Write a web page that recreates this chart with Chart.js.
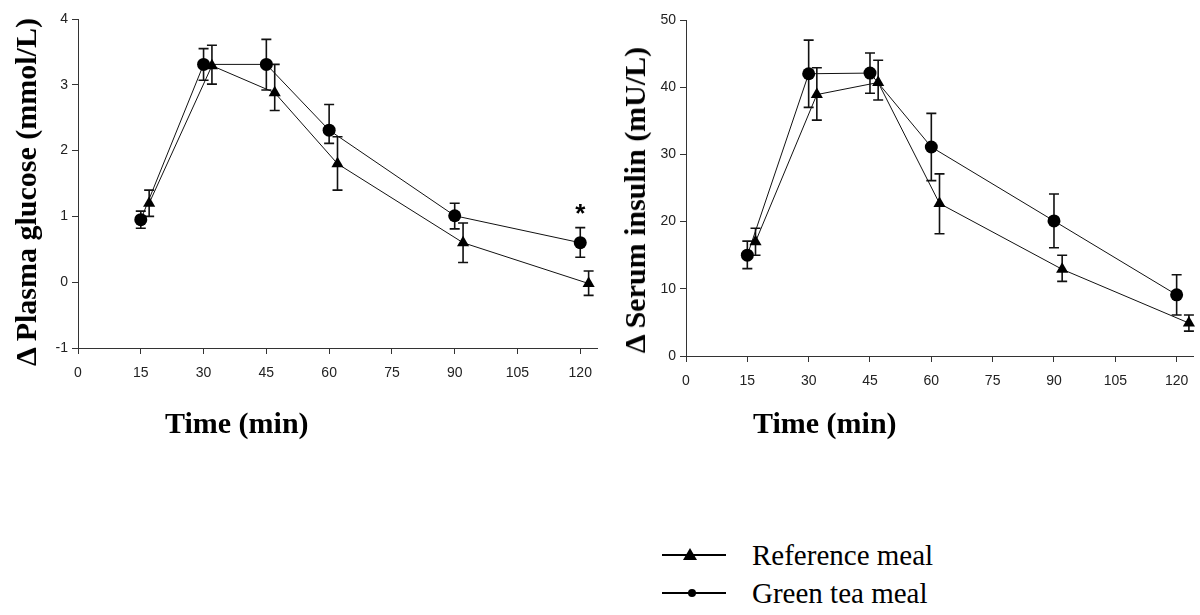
<!DOCTYPE html>
<html lang="en">
<head>
  <meta charset="UTF-8" />
  <title>Glucose and insulin response</title>
  <script src="https://cdn.jsdelivr.net/npm/chart.js"></script>
  <style>
    body { margin: 0; background: #fff; width: 1200px; height: 615px; position: relative; overflow: hidden; }
    canvas { position: absolute; top: 0; }
    #glucoseChart { left: 0; }
    #insulinChart { left: 610px; }
    .axis-title { position: absolute; font-family: "Liberation Serif", "Times New Roman", serif; font-size: 30px; line-height: 30px; font-weight: bold; color: #000; white-space: nowrap; }
    .axis-title.y { transform: translate(-50%, -50%) rotate(-90deg); }
    .legend { position: absolute; left: 662px; top: 536px; font-family: "Liberation Serif", "Times New Roman", serif; font-size: 29px; color: #000; }
    .legend div { display: flex; align-items: center; height: 38px; }
    .legend svg { margin-right: 26px; }
  </style>
</head>
<body>
  <canvas id="glucoseChart" width="610" height="420"></canvas>
  <canvas id="insulinChart" width="590" height="420"></canvas>

  <!-- Axis titles -->
  <div class="axis-title y" style="left:26px; top:192px;">&Delta; Plasma glucose (mmol/L)</div>
  <div class="axis-title y" style="left:635px; top:200px;">&Delta; Serum insulin (mU/L)</div>
  <div class="axis-title" style="left:165px; top:408px;">Time (min)</div>
  <div class="axis-title" style="left:753px; top:408px;">Time (min)</div>

  <!-- Legend -->
  <div class="legend">
    <div>
      <svg width="64" height="20"><line x1="0" y1="10" x2="64" y2="10" stroke="#000" stroke-width="2"/><polygon points="28,3 35,15 21,15" fill="#000"/></svg>
      <span>Reference meal</span>
    </div>
    <div>
      <svg width="64" height="20"><line x1="0" y1="10" x2="64" y2="10" stroke="#000" stroke-width="2"/><circle cx="30" cy="10" r="4" fill="#000"/></svg>
      <span>Green tea meal</span>
    </div>
  </div>

  <script>
    // x positions (min); reference meal is drawn slightly offset as in the figure
    const timeGreen = [15, 30, 45, 60, 90, 120];
    const timeRefGlu = [17, 32, 47, 62, 92, 122];
    const timeRefIns = [17, 32, 47, 62, 92, 123];
    const xTicks = [0, 15, 30, 45, 60, 75, 90, 105, 120];

    // plasma glucose (mmol/L)
    const gluGreen = [0.95, 3.31, 3.31, 2.31, 1.01, 0.60];
    const gluGreenHi = [0.13, 0.24, 0.38, 0.39, 0.19, 0.23];
    const gluGreenLo = [0.13, 0.24, 0.39, 0.20, 0.20, 0.22];
    const gluRef = [1.2, 3.29, 2.88, 1.8, 0.6, -0.02];
    const gluRefHi = [0.2, 0.31, 0.43, 0.41, 0.3, 0.19];
    const gluRefLo = [0.2, 0.28, 0.27, 0.4, 0.3, 0.18];
    const gluStarX = [120];
    const gluStarY = [1.1];

    // serum insulin (mU/L)
    const insGreen = [15, 42, 42.1, 31.1, 20.1, 9.1];
    const insGreenHi = [2.1, 5, 3, 5, 4, 3];
    const insGreenLo = [2, 5, 3, 5, 4, 3];
    const insRef = [17, 38.9, 40.7, 22.7, 12.9, 4.9];
    const insRefHi = [2, 4, 3.3, 4.4, 2.1, 1.2];
    const insRefLo = [2, 3.8, 2.6, 4.5, 1.8, 1.2];

    const tickFont = { family: '"Liberation Sans", Arial, sans-serif', size: 14 };

    const errorBars = {
      id: 'errorBars',
      beforeDatasetsDraw(chart) {
        const { ctx, scales: { x, y } } = chart;
        ctx.save();
        ctx.strokeStyle = '#111';
        ctx.lineWidth = 1.6;
        chart.data.datasets.forEach(ds => {
          ds.data.forEach((pt, i) => {
            const px = x.getPixelForValue(pt.x);
            const top = y.getPixelForValue(pt.y + ds.errHi[i]);
            const bot = y.getPixelForValue(pt.y - ds.errLo[i]);
            ctx.beginPath();
            ctx.moveTo(px, top); ctx.lineTo(px, bot);
            ctx.moveTo(px - 5, top); ctx.lineTo(px + 5, top);
            ctx.moveTo(px - 5, bot); ctx.lineTo(px + 5, bot);
            ctx.stroke();
          });
        });
        ctx.restore();
      }
    };

    const stars = {
      id: 'stars',
      afterDatasetsDraw(chart, args, opts) {
        if (!opts.x) return;
        const { ctx, scales: { x, y } } = chart;
        ctx.save();
        ctx.fillStyle = '#000';
        ctx.font = 'bold 26px "Liberation Sans", Arial, sans-serif';
        ctx.textAlign = 'center';
        ctx.textBaseline = 'middle';
        opts.x.forEach((v, i) => {
          ctx.fillText('*', x.getPixelForValue(v), y.getPixelForValue(opts.y[i]) + 5);
        });
        ctx.restore();
      }
    };

    function series(xs, ys, hi, lo, style, radius) {
      return {
        data: xs.map((v, i) => ({ x: v, y: ys[i] })),
        errHi: hi,
        errLo: lo,
        borderColor: '#111',
        borderWidth: 1,
        backgroundColor: '#000',
        pointStyle: style,
        pointRadius: radius,
        pointBorderWidth: 0,
        clip: false
      };
    }

    function makeChart(id, cfg) {
      return new Chart(document.getElementById(id), {
        type: 'line',
        data: {
          datasets: [
            series(cfg.refX, cfg.refY, cfg.refHi, cfg.refLo, 'triangle', 7),
            series(timeGreen, cfg.greenY, cfg.greenHi, cfg.greenLo, 'circle', 6.5)
          ]
        },
        plugins: [errorBars, stars],
        options: {
          responsive: false,
          animation: false,
          layout: { padding: { left: 0, right: cfg.padRight, top: cfg.padTop, bottom: 0 } },
          plugins: {
            legend: { display: false },
            tooltip: { enabled: false },
            stars: { x: cfg.starX, y: cfg.starY }
          },
          scales: {
            x: {
              type: 'linear',
              min: 0, max: 124,
              afterBuildTicks: s => { s.ticks = xTicks.map(v => ({ value: v })); },
              afterFit: s => { s.height = cfg.xHeight; },
              border: { display: true, color: '#333', width: 1 },
              grid: { drawOnChartArea: false, tickLength: 6, color: '#333' },
              ticks: { font: tickFont, color: '#222', padding: 11, maxRotation: 0 }
            },
            y: {
              min: cfg.yMin, max: cfg.yMax,
              ticks: { stepSize: cfg.yStep, font: tickFont, color: '#222', padding: 4 },
              afterFit: s => { s.width = cfg.yWidth; },
              border: { display: true, color: '#333', width: 1 },
              grid: { drawOnChartArea: false, tickLength: 6, color: '#333' }
            }
          }
        }
      });
    }

    makeChart('glucoseChart', {
      refX: timeRefGlu, refY: gluRef, refHi: gluRefHi, refLo: gluRefLo,
      greenY: gluGreen, greenHi: gluGreenHi, greenLo: gluGreenLo,
      starX: gluStarX, starY: gluStarY,
      yMin: -1, yMax: 4, yStep: 1,
      yWidth: 78, xHeight: 72, padRight: 13, padTop: 19
    });

    makeChart('insulinChart', {
      refX: timeRefIns, refY: insRef, refHi: insRefHi, refLo: insRefLo,
      greenY: insGreen, greenHi: insGreenHi, greenLo: insGreenLo,
      yMin: 0, yMax: 50, yStep: 10,
      yWidth: 76, xHeight: 64, padRight: 3, padTop: 20
    });
  </script>
</body>
</html>
